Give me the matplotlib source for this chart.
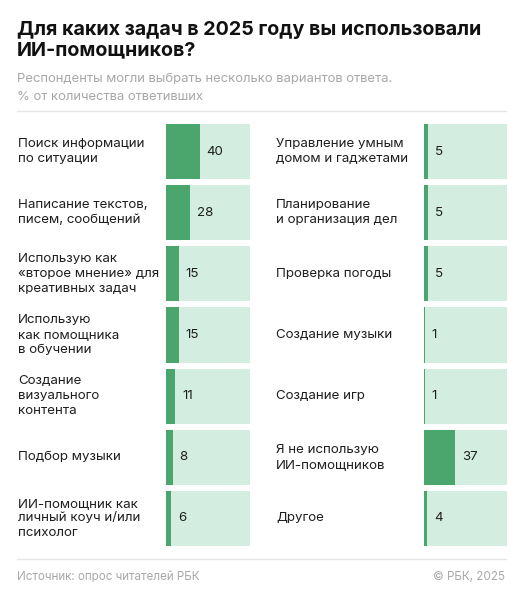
import matplotlib.pyplot as plt
import matplotlib.transforms as mtransforms

plt.rcParams['font.family'] = ['Inter', 'DejaVu Sans']

W, H = 526, 600

left_labels = ['Поиск информации\nпо ситуации',
               'Написание текстов,\nписем, сообщений',
               'Использую как\n«второе мнение» для\nкреативных задач',
               'Использую\nкак помощника\nв обучении',
               'Создание\nвизуального\nконтента',
               'Подбор музыки',
               'ИИ-помощник как\nличный коуч и/или\nпсихолог']
left_values = [40, 28, 15, 15, 11, 8, 6]

right_labels = ['Управление умным\nдомом и гаджетами',
                'Планирование\nи организация дел',
                'Проверка погоды',
                'Создание музыки',
                'Создание игр',
                'Я не использую\nИИ-помощников',
                'Другое']
right_values = [5, 5, 5, 1, 1, 37, 4]

dark = '#4aa66d'
light = '#d3ede1'
text_col = '#1f1f1f'
grey = '#a8a8a8'

fig = plt.figure(figsize=(W / 100, H / 100), dpi=100)
fig.patch.set_facecolor('white')


def px(x, y):
    return x / W, 1 - y / H


def column(x0, x1, label_x, labels, values):
    top, bottom = 124, 546
    ax = fig.add_axes([x0 / W, 1 - bottom / H, (x1 - x0) / W, (bottom - top) / H])
    rows = list(range(len(values)))
    ax.barh(rows, [100] * len(values), height=0.9, color=light)
    ax.barh(rows, values, height=0.9, color=dark)
    ax.set_xlim(0, 100)
    ax.set_ylim(len(values) - 1 + 0.45, -0.45)
    ax.axis('off')
    offset = mtransforms.offset_copy(ax.transData, fig=fig, x=7, y=0, units='dots')
    for r, v in zip(rows, values):
        ax.text(v, r, str(v), transform=offset, ha='left', va='center',
                fontsize=9.6, color=text_col)
    lab_tr = mtransforms.blended_transform_factory(fig.transFigure, ax.transData)
    for r, lab in zip(rows, labels):
        ax.text(label_x / W, r, lab, transform=lab_tr, ha='left', va='center',
                fontsize=9.6, color=text_col, linespacing=1.3)


column(166, 250, 18, left_labels, left_values)
column(424, 507, 276, right_labels, right_values)

fig.text(*px(17, 35), 'Для каких задач в 2025 году вы использовали',
         fontsize=14.2, fontweight='bold', color='#111111', va='baseline')
fig.text(*px(17, 55), 'ИИ-помощников?',
         fontsize=14.2, fontweight='bold', color='#111111', va='baseline')
fig.text(*px(17, 82), 'Респонденты могли выбрать несколько вариантов ответа.',
         fontsize=9.4, color=grey, va='baseline')
fig.text(*px(17, 100), '% от количества ответивших',
         fontsize=9.4, color=grey, va='baseline')

for y in (111, 559):
    fig.add_artist(plt.Line2D([17 / W, 506 / W], [1 - y / H, 1 - y / H],
                              color='#e6e6e6', linewidth=1))

fig.text(*px(17, 580), 'Источник: опрос читателей РБК',
         fontsize=8.4, color=grey, va='baseline')
fig.text(*px(505, 580), '© РБК, 2025',
         fontsize=8.4, color=grey, va='baseline', ha='right')

fig.savefig('out.png', dpi=100, facecolor='white')
